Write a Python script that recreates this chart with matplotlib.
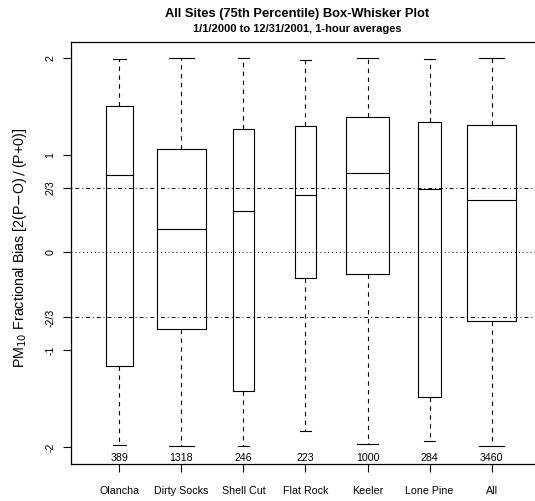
import matplotlib.pyplot as plt

plt.rcParams['font.family'] = ['Liberation Sans', 'DejaVu Sans']

# Sites and summary statistics of fractional bias
sites = ["Olancha", "Dirty Socks", "Shell Cut", "Flat Rock", "Keeler", "Lone Pine", "All"]
counts = [389, 1318, 246, 223, 1000, 284, 3460]
whis_lo = [-1.98, -1.99, -1.99, -1.83, -1.97, -1.93, -1.99]
q1 = [-1.16, -0.78, -1.42, -0.265, -0.22, -1.485, -0.70]
med = [0.80, 0.24, 0.43, 0.59, 0.82, 0.65, 0.54]
q3 = [1.50, 1.06, 1.27, 1.30, 1.39, 1.34, 1.31]
whis_hi = [1.99, 2.0, 2.0, 1.98, 2.0, 1.99, 2.0]

ytick_vals = [2, 1, 2/3, 0, -2/3, -1, -2]
ytick_labels = ["2", "1", "2/3", "0", "-2/3", "-1", "-2"]

stats = []
for i in range(len(sites)):
    stats.append(dict(label=sites[i], whislo=whis_lo[i], q1=q1[i], med=med[i],
                      q3=q3[i], whishi=whis_hi[i], fliers=[]))

# box width grows with sqrt(n), capped
widths = [0.8 * min(1.0, (n / 1318) ** 0.5) for n in counts]
positions = list(range(1, len(sites) + 1))

fig = plt.figure(figsize=(5.35, 5.01), dpi=100)
ax = fig.add_axes([0.1327, 0.0739, 0.8766, 0.8423])

# reference lines
ax.axhline(0, color='black', lw=0.7, ls=(0, (1, 3)))
for v in (2/3, -2/3):
    ax.axhline(v, color='black', lw=0.7, ls=(0, (1, 3, 4, 3)))

lw = 0.8
ax.bxp(stats, positions=positions, widths=widths,
       capwidths=[w / 2 for w in widths], showfliers=False,
       boxprops=dict(color='black', lw=lw),
       whiskerprops=dict(color='black', lw=lw, ls=(0, (4, 4))),
       capprops=dict(color='black', lw=lw),
       medianprops=dict(color='black', lw=lw))

for x, n in zip(positions, counts):
    ax.text(x, -2.112, str(n), ha='center', va='center', fontsize=7.7)

ax.set_xlim(0.22, 7.78)
ax.set_ylim(-2.17, 2.16)

ax.set_yticks(ytick_vals)
ax.set_yticklabels(ytick_labels, rotation=90, va='center')
ax.set_xticks(positions)
ax.set_xticklabels(sites)
ax.tick_params(axis='both', labelsize=7.7, length=6, width=0.8)
ax.tick_params(axis='x', pad=10)
ax.tick_params(axis='y', pad=5)
for s in ax.spines.values():
    s.set_linewidth(0.9)

fig.text(297 / 535, 0.972, "All Sites (75th Percentile) Box-Whisker Plot",
         ha='center', va='center', fontsize=9.3, fontweight='bold')
fig.text(297 / 535, 0.943, "1/1/2000 to 12/31/2001, 1-hour averages",
         ha='center', va='center', fontsize=8, fontweight='bold')
fig.text(20 / 535, 0.505, r"PM$_{10}$ Fractional Bias [2(P$-$O)$\,/\,$(P+0)]",
         rotation=90, ha='center', va='center', fontsize=10.3)

fig.savefig('out.png', dpi=100)
